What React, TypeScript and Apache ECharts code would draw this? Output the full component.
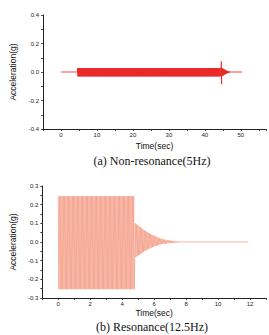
import React, { useEffect, useRef } from "react";
import * as echarts from "echarts";

// (a) Non-resonance: 5 Hz excitation
const nonResFreq = 5; // Hz
const nonResRestEnd = 4.6; // s, quiet lead-in before shaking starts
const nonResShakeEnd = 44.6; // s, shaker switched off
const nonResUpper = 0.028; // g
const nonResLower = -0.031; // g
const nonResStopPeak = 0.075; // g, transient at switch-off
const nonResStopTrough = -0.085; // g
const nonResDecayPeaks = [0.028, 0.026, 0.023, 0.02, 0.017, 0.014, 0.011, 0.009, 0.007, 0.005, 0.004, 0.003, 0.002];
const nonResEnd = 50.4; // s

// (b) Resonance: 12.5 Hz excitation
const resFreq = 12.5; // Hz
const resShakeEnd = 4.78; // s
const resPeak = 0.246; // g
const resTrough = -0.253; // g
const resDecayPeaks = [
  0.1, 0.095, 0.09, 0.085, 0.08, 0.074, 0.069, 0.064, 0.06, 0.055, 0.051, 0.047, 0.043, 0.04, 0.036, 0.033,
  0.03, 0.027, 0.024, 0.021, 0.019, 0.017, 0.015, 0.013, 0.011, 0.01, 0.009, 0.008, 0.007, 0.006, 0.005,
  0.004, 0.004, 0.003, 0.003,
];
const resDecayTroughs = [
  -0.08, -0.076, -0.072, -0.068, -0.063, -0.058, -0.053, -0.049, -0.045, -0.041, -0.037, -0.034, -0.031,
  -0.028, -0.025, -0.022, -0.02, -0.018, -0.016, -0.014, -0.012, -0.011, -0.01, -0.009, -0.008, -0.007,
  -0.006, -0.005, -0.005, -0.004, -0.004, -0.003, -0.003, -0.002, -0.002,
];
const resEnd = 11.9; // s

// Axis tick values
const topYTicks = [-0.4, -0.2, 0.0, 0.2, 0.4];
const topXTicks = [0, 10, 20, 30, 40, 50];
const botYTicks = [-0.3, -0.2, -0.1, 0.0, 0.1, 0.2, 0.3];
const botXTicks = [0, 2, 4, 6, 8, 10, 12];

type Pt = [number, number];

// Steady oscillation: one point per half cycle, alternating crest and trough
function steady(start: number, end: number, freq: number, upper: number, lower: number): Pt[] {
  const half = 1 / (2 * freq);
  const pts: Pt[] = [];
  let k = 0;
  for (let t = start; t <= end; t = start + (++k) * half) {
    pts.push([t, k % 2 === 0 ? upper : lower]);
  }
  return pts;
}

// Free decay: listed crest/trough amplitudes, one cycle each
function decay(start: number, freq: number, peaks: number[], troughs: number[]): Pt[] {
  const half = 1 / (2 * freq);
  const pts: Pt[] = [];
  peaks.forEach((p, i) => {
    const t = start + i * 2 * half;
    pts.push([t, p]);
    pts.push([t + half, troughs[i]]);
  });
  return pts;
}

function buildNonRes(): Pt[] {
  const half = 1 / (2 * nonResFreq);
  const pts: Pt[] = [[0, 0], [nonResRestEnd, 0]];
  pts.push(...steady(nonResRestEnd, nonResShakeEnd - 2 * half, nonResFreq, nonResUpper, nonResLower));
  pts.push([nonResShakeEnd, nonResStopPeak], [nonResShakeEnd + half * 0.5, nonResStopTrough]);
  const decayStart = nonResShakeEnd + half;
  pts.push(...decay(decayStart, nonResFreq, nonResDecayPeaks, nonResDecayPeaks.map((v) => -v)));
  const last = decayStart + nonResDecayPeaks.length * 2 * half;
  pts.push([last, 0], [nonResEnd, 0]);
  return pts;
}

function buildRes(): Pt[] {
  const half = 1 / (2 * resFreq);
  const pts: Pt[] = [];
  pts.push(...steady(0, resShakeEnd, resFreq, resPeak, resTrough));
  const decayStart = resShakeEnd + half;
  pts.push(...decay(decayStart, resFreq, resDecayPeaks, resDecayTroughs));
  const last = decayStart + resDecayPeaks.length * 2 * half;
  pts.push([last, 0], [resEnd, 0]);
  return pts;
}

const axisColor = "#222";
const tickFont = { fontSize: 6, color: "#222", fontFamily: "Liberation Sans, Arial, sans-serif" };
const nameFont = { fontSize: 8.5, color: "#111", fontFamily: "Liberation Sans, Arial, sans-serif" };
const captionFont = {
  fontFamily: "Liberation Serif, Times New Roman, serif",
  fontSize: 12,
  fontWeight: "normal",
  color: "#111",
};

function near(v: number, list: number[]): boolean {
  return list.some((t) => Math.abs(t - v) < 1e-6);
}

export default function App() {
  const ref = useRef<HTMLDivElement>(null);

  useEffect(() => {
    if (!ref.current) return;
    const chart = echarts.init(ref.current, undefined, { renderer: "svg" });
    const axisLine = { show: true, onZero: false, lineStyle: { color: axisColor, width: 1 } };
    const axisTick = { show: true, length: 2, lineStyle: { color: axisColor, width: 0.8 } };

    chart.setOption({
      animation: false,
      backgroundColor: "#fff",
      grid: [
        { left: 36, top: 15, width: 231, height: 114 },
        { left: 38, top: 186, width: 228, height: 112 },
      ],
      title: [
        { text: "(a) Non-resonance(5Hz)", left: 152, top: 155, padding: 0, textAlign: "center", textStyle: captionFont },
        { text: "(b) Resonance(12.5Hz)", left: 152, top: 321, padding: 0, textAlign: "center", textStyle: captionFont },
      ],
      xAxis: [
        {
          type: "value",
          gridIndex: 0,
          min: -5,
          max: 57,
          interval: 5,
          name: "Time(sec)",
          nameLocation: "middle",
          nameGap: 12,
          nameTextStyle: nameFont,
          axisLine,
          axisTick,
          splitLine: { show: false },
          axisLabel: {
            ...tickFont,
            margin: 3,
            formatter: (v: number) => (near(v, topXTicks) ? String(v) : ""),
          },
        },
        {
          type: "value",
          gridIndex: 1,
          min: -1,
          max: 13,
          interval: 1,
          name: "Time(sec)",
          nameLocation: "middle",
          nameGap: 10,
          nameTextStyle: nameFont,
          axisLine,
          axisTick,
          splitLine: { show: false },
          axisLabel: {
            ...tickFont,
            margin: 3,
            formatter: (v: number) => (near(v, botXTicks) ? String(v) : ""),
          },
        },
      ],
      yAxis: [
        {
          type: "value",
          gridIndex: 0,
          min: -0.4,
          max: 0.4,
          interval: 0.1,
          name: "Acceleration(g)",
          nameLocation: "middle",
          nameGap: 26,
          nameTextStyle: nameFont,
          axisLine,
          axisTick,
          splitLine: { show: false },
          axisLabel: {
            ...tickFont,
            margin: 4,
            formatter: (v: number) => (near(v, topYTicks) ? v.toFixed(1) : ""),
          },
        },
        {
          type: "value",
          gridIndex: 1,
          min: -0.3,
          max: 0.3,
          interval: 0.1,
          name: "Acceleration(g)",
          nameLocation: "middle",
          nameGap: 25,
          nameTextStyle: nameFont,
          axisLine,
          axisTick,
          minorTick: { show: true, splitNumber: 2, length: 2, lineStyle: { color: axisColor, width: 0.8 } },
          splitLine: { show: false },
          axisLabel: {
            ...tickFont,
            margin: 4,
            formatter: (v: number) => (near(v, botYTicks) ? v.toFixed(1) : ""),
          },
        },
      ],
      series: [
        {
          type: "line",
          xAxisIndex: 0,
          yAxisIndex: 0,
          data: buildNonRes(),
          showSymbol: false,
          lineStyle: { color: "#e8231f", width: 0.8 },
        },
        {
          type: "line",
          xAxisIndex: 1,
          yAxisIndex: 1,
          data: buildRes(),
          showSymbol: false,
          lineStyle: { color: "#f49a82", width: 0.7 },
        },
      ],
    });

    return () => chart.dispose();
  }, []);

  return (
    <div
      ref={ref}
      style={{ position: "fixed", left: 0, top: 0, width: 269, height: 335, background: "#fff" }}
    />
  );
}
